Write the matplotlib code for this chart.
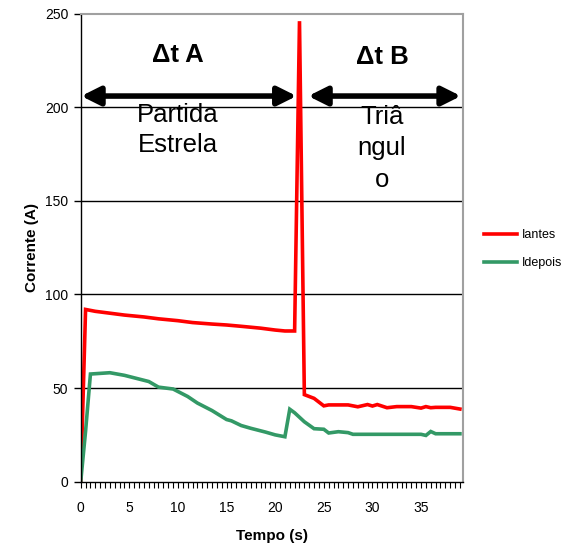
import matplotlib
matplotlib.use('Agg')
import matplotlib.pyplot as plt
import numpy as np

plt.rcParams['font.family'] = ['Liberation Sans', 'DejaVu Sans']

# tempo (s) / corrente (A)
t_antes = [0, 0.5, 1.5, 3, 4.5, 6.5, 8, 10, 11.5, 13.5, 15, 16.5, 18.5, 20, 21, 22,
           22.5, 23, 24, 25, 25.5, 27.5, 28.5, 29.5, 30, 30.5, 31.5, 32.5, 34,
           35, 35.5, 36, 36.5, 38, 39]
i_antes = [0, 92, 91, 90, 89, 88, 87, 86, 85, 84.2, 83.7, 83, 82, 81, 80.5, 80.5,
           246, 46.5, 44.5, 40.5, 41, 41, 40, 41.2, 40.4, 41.2, 39.5, 40.1, 40.1,
           39.3, 40.1, 39.5, 39.7, 39.7, 38.8]

t_depois = [0, 0.5, 1, 3, 4.5, 7, 8, 9.5, 11, 12, 13.5, 15, 15.5, 16.5, 17.5, 19,
            20, 21, 21.5, 22, 23, 24, 25, 25.5, 26.5, 27.5, 28, 35, 35.5, 36,
            36.5, 39]
i_depois = [0, 27, 57.5, 58.2, 56.8, 53.5, 50.5, 49.5, 45.5, 42, 38, 33.2, 32.5,
            30, 28.5, 26.5, 25, 24, 38.7, 36.8, 32, 28.3, 28, 26, 26.7, 26.2, 25.3,
            25.3, 24.7, 26.8, 25.6, 25.6]

x_labels = [0, 5, 10, 15, 20, 25, 30, 35]
y_ticks = [0, 50, 100, 150, 200, 250]

fig = plt.figure(figsize=(5.7, 5.45), dpi=100)
ax = fig.add_axes([0.1416, 0.1162, 0.6704, 0.8587])

ax.plot(t_antes, i_antes, color='#ff0000', lw=2.6, label='Iantes', solid_joinstyle='miter')
ax.plot(t_depois, i_depois, color='#339966', lw=2.6, label='Idepois', solid_joinstyle='miter')

ax.set_xlim(0, 39.3)
ax.set_ylim(0, 250)
ax.set_yticks(y_ticks)
ax.set_xticks(x_labels)
ax.set_xticks(np.arange(0, 39.3, 0.5), minor=True)
ax.tick_params(axis='y', direction='out', length=5, width=1, labelsize=10, pad=4)
ax.tick_params(axis='x', which='both', direction='out', length=4, width=0.8,
               labelsize=10, pad=10)

for v in [50, 100, 150, 200]:
    ax.axhline(v, color='black', lw=1, zorder=0)

for s in ['left', 'bottom']:
    ax.spines[s].set_color('black')
    ax.spines[s].set_linewidth(1)
for s in ['top', 'right']:
    ax.spines[s].set_color('#a0a0a0')
    ax.spines[s].set_linewidth(1.5)

ax.set_xlabel('Tempo (s)', fontsize=11, fontweight='bold', labelpad=10)
ax.set_ylabel('Corrente (A)', fontsize=11, fontweight='bold', labelpad=4)

# intervalos
arrow = dict(arrowstyle='<|-|>', color='black', lw=4, mutation_scale=28, shrinkA=0, shrinkB=0)
ax.annotate('', xy=(0.05, 206), xytext=(22.2, 206), arrowprops=arrow)
ax.annotate('', xy=(23.4, 206), xytext=(39.1, 206), arrowprops=arrow)

ax.text(10.0, 228, '\u0394t A', fontsize=18.5, fontweight='bold', ha='center', va='center')
ax.text(31.0, 227, '\u0394t B', fontsize=18.5, fontweight='bold', ha='center', va='center')
ax.text(10.0, 188, 'Partida\nEstrela', fontsize=18.5, ha='center', va='center', linespacing=1.3)
ax.text(31.0, 178, 'Triâ\nngul\no', fontsize=18.5, ha='center', va='center', linespacing=1.38)

ax.legend(loc='upper left', bbox_to_anchor=(1.027, 0.563), frameon=False, fontsize=9,
          handlelength=2.6, handletextpad=0.4, labelspacing=1.25)

fig.savefig('out.png', dpi=100)
